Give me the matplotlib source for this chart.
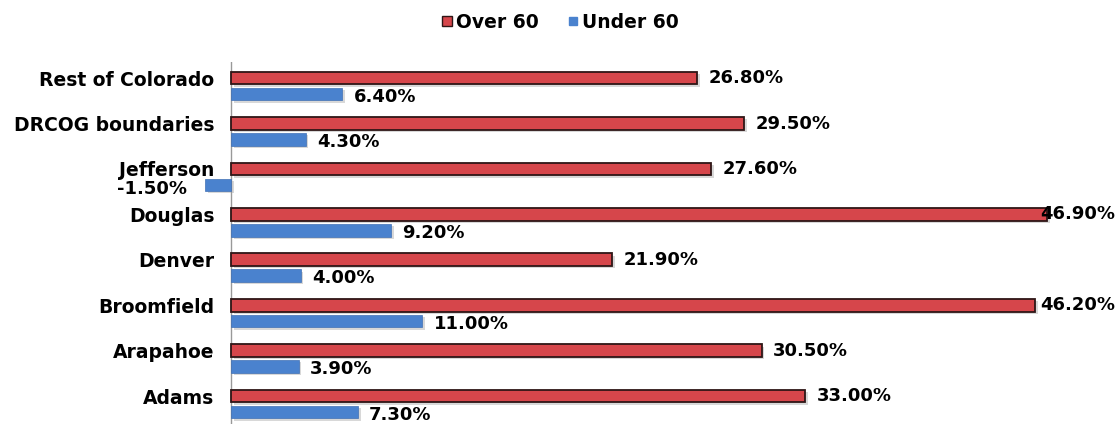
import matplotlib
matplotlib.use("Agg")
import matplotlib.pyplot as plt
from matplotlib.lines import Line2D
import numpy as np

categories = ["Adams", "Arapahoe", "Broomfield", "Denver", "Douglas",
              "Jefferson", "DRCOG boundaries", "Rest of Colorado"]
over_60 = [33.0, 30.5, 46.2, 21.9, 46.9, 27.6, 29.5, 26.8]
under_60 = [7.3, 3.9, 11.0, 4.0, 9.2, -1.5, 4.3, 6.4]

RED = "#D6464B"
RED_EDGE = "#2e1616"
BLUE = "#4A82CE"

plt.rcParams['font.family'] = ['DejaVu Sans']

fig = plt.figure(figsize=(11.18, 4.24), dpi=100)
ax = fig.add_axes([195/1118, 0, 920/1118, 362/424])

y = np.arange(len(categories))
off = 0.175
h = 0.28
# faint drop shadows
ax.barh(y + off - 0.05, over_60, height=h, left=0.15, color="#d8d8d8", linewidth=0, zorder=1)
ax.barh(y - off - 0.05, under_60, height=h, left=0.15, color="#d8d8d8", linewidth=0, zorder=1)
ax.barh(y + off, over_60, height=h, color=RED, edgecolor=RED_EDGE, linewidth=1.3, zorder=3)
ax.barh(y - off, under_60, height=h, color=BLUE, edgecolor="#4070b4", linewidth=0.5, zorder=3)

xmin, xmax = -2.07, 50.8
ax.set_xlim(xmin, xmax)
ax.set_ylim(-0.44, 7.53)
ax.axvline(0, color="#999999", linewidth=1.0, zorder=2)

fs = 13
lfs = 13.5
red_labels = []
for yi, v in zip(y, over_60):
    txt = f"{v:.2f}%"
    t = ax.annotate(txt, (v, yi + off), xytext=(8, 0), textcoords="offset points",
                    ha="left", va="center", fontsize=fs, fontweight="bold", zorder=5,
                    annotation_clip=False)
    red_labels.append((t, yi + off))
for yi, v in zip(y, under_60):
    txt = f"{v:.2f}%"
    if v < 0:
        ax.annotate(txt, (v, yi - off), xytext=(-13, -3), textcoords="offset points",
                    ha="right", va="center", fontsize=fs, fontweight="bold",
                    annotation_clip=False, zorder=5)
    else:
        ax.annotate(txt, (v, yi - off), xytext=(8, -2), textcoords="offset points",
                    ha="left", va="center", fontsize=fs, fontweight="bold", zorder=5)

ax.set_yticks(y + off)
ax.set_yticklabels(categories, fontsize=lfs, fontweight="bold")
ax.tick_params(axis="y", length=0, pad=-14)
ax.set_xticks([])
for s in ax.spines.values():
    s.set_visible(False)

handles = [Line2D([], [], linestyle="none", marker="s", markersize=7.5,
                  markerfacecolor=RED, markeredgecolor=RED_EDGE, label="Over 60"),
           Line2D([], [], linestyle="none", marker="s", markersize=5.5,
                  markerfacecolor=BLUE, markeredgecolor=BLUE, label="Under 60")]
fig.legend(handles=handles, loc="upper center", bbox_to_anchor=(0.5, 1.01), ncol=2,
           frameon=False, prop={"size": lfs, "weight": "bold"}, handlelength=0.8,
           handletextpad=0.1, columnspacing=1.4)

# keep data labels that would run past the figure edge inside it
fig.canvas.draw()
r = fig.canvas.get_renderer()
W = fig.bbox.width
for t, yy in red_labels:
    bb = t.get_window_extent(r)
    if bb.x1 > W - 2:
        t.remove()
        ax.text(xmax, yy, t.get_text(), ha="right", va="center", fontsize=fs,
                fontweight="bold", zorder=5)

fig.savefig("out.png", dpi=100, facecolor="white")
